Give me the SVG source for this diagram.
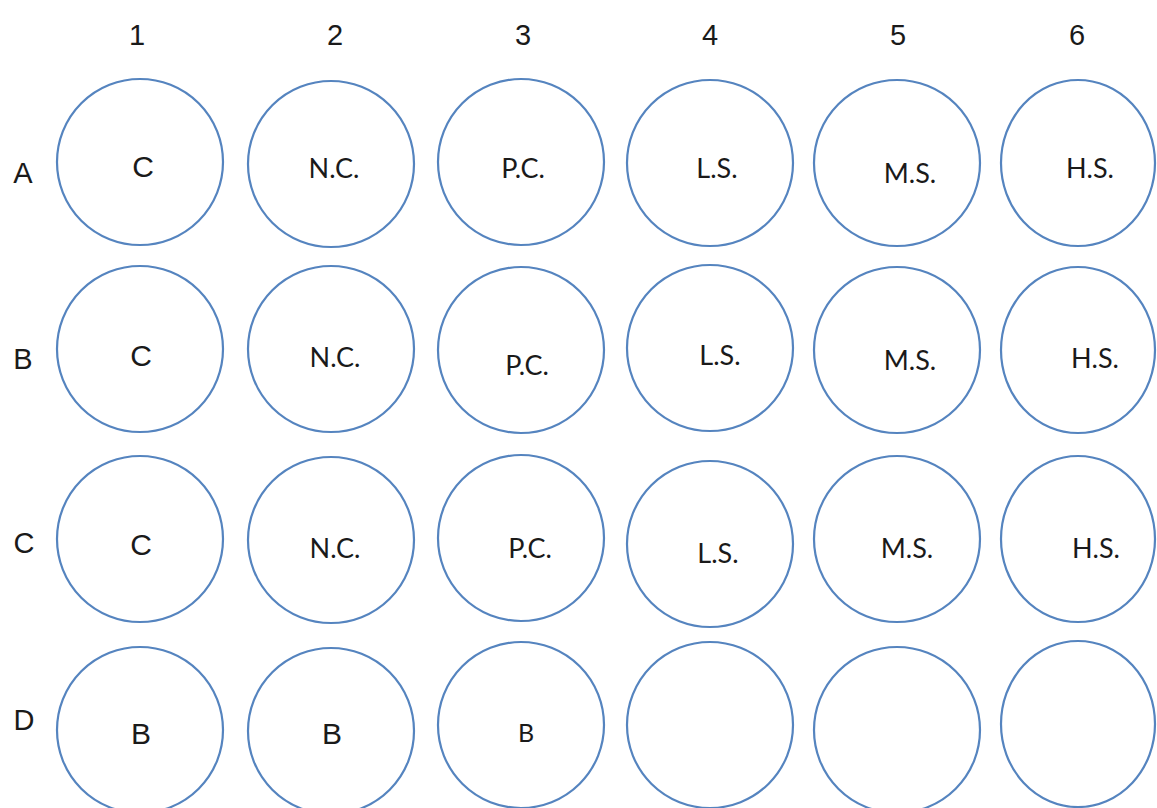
<svg xmlns="http://www.w3.org/2000/svg" width="1157" height="808" viewBox="0 0 1157 808">
<style>
.well{fill:none;stroke:#5584BF;stroke-width:2.2}
.hdr{font-family:"Liberation Sans",Arial,sans-serif;font-size:29px;fill:#1a1a1a;text-anchor:middle}
.sans{font-family:"Liberation Sans",Arial,sans-serif;font-size:30px;fill:#1a1a1a;text-anchor:middle}
.cal{font-family:Lato,"Open Sans",sans-serif;font-size:27px;fill:#1a1a1a;text-anchor:middle}
</style>
<rect width="1157" height="808" fill="#fff"/>
<g id="headers">
<text class="hdr" x="137" y="45">1</text>
<text class="hdr" x="335" y="45">2</text>
<text class="hdr" x="523" y="45">3</text>
<text class="hdr" x="710" y="45">4</text>
<text class="hdr" x="898" y="45">5</text>
<text class="hdr" x="1077" y="45">6</text>
<text class="hdr" x="23" y="183">A</text>
<text class="hdr" x="23" y="369">B</text>
<text class="hdr" x="24" y="553">C</text>
<text class="hdr" x="24" y="730">D</text>
</g>
<g id="rowA">
<g id="A1"><circle class="well" cx="140" cy="162" r="83"/><text class="sans" x="143" y="177">C</text></g>
<g id="A2"><circle class="well" cx="331" cy="164" r="83"/><text class="cal" x="334" y="178">N.C.</text></g>
<g id="A3"><circle class="well" cx="521" cy="162" r="83"/><text class="cal" x="523" y="178">P.C.</text></g>
<g id="A4"><circle class="well" cx="710" cy="163" r="83"/><text class="cal" x="717" y="178">L.S.</text></g>
<g id="A5"><circle class="well" cx="897" cy="163" r="83"/><text class="cal" x="910" y="183">M.S.</text></g>
<g id="A6"><ellipse class="well" cx="1078" cy="163" rx="77" ry="83"/><text class="cal" x="1090" y="178">H.S.</text></g>
</g>
<g id="rowB">
<g id="B1"><circle class="well" cx="140" cy="349" r="83"/><text class="sans" x="141" y="366">C</text></g>
<g id="B2"><circle class="well" cx="331" cy="349" r="83"/><text class="cal" x="335" y="367">N.C.</text></g>
<g id="B3"><circle class="well" cx="521" cy="350" r="83"/><text class="cal" x="527" y="375">P.C.</text></g>
<g id="B4"><circle class="well" cx="710" cy="348" r="83"/><text class="cal" x="720" y="365">L.S.</text></g>
<g id="B5"><circle class="well" cx="897" cy="350" r="83"/><text class="cal" x="910" y="370">M.S.</text></g>
<g id="B6"><ellipse class="well" cx="1078" cy="350" rx="77" ry="83"/><text class="cal" x="1095" y="368">H.S.</text></g>
</g>
<g id="rowC">
<g id="C1"><circle class="well" cx="140" cy="539" r="83"/><text class="sans" x="141" y="555">C</text></g>
<g id="C2"><circle class="well" cx="331" cy="540" r="83"/><text class="cal" x="335" y="558">N.C.</text></g>
<g id="C3"><circle class="well" cx="521" cy="538" r="83"/><text class="cal" x="530" y="558">P.C.</text></g>
<g id="C4"><circle class="well" cx="710" cy="544" r="83"/><text class="cal" x="718" y="563">L.S.</text></g>
<g id="C5"><circle class="well" cx="897" cy="539" r="83"/><text class="cal" x="907" y="558">M.S.</text></g>
<g id="C6"><ellipse class="well" cx="1078" cy="539" rx="77" ry="83"/><text class="cal" x="1096" y="558">H.S.</text></g>
</g>
<g id="rowD">
<g id="D1"><circle class="well" cx="140" cy="730" r="83"/><text class="sans" x="141" y="744">B</text></g>
<g id="D2"><circle class="well" cx="331" cy="731" r="83"/><text class="sans" x="332" y="744">B</text></g>
<g id="D3"><circle class="well" cx="521" cy="725" r="83"/><text class="cal" x="526" y="742" style="font-size:25px">B</text></g>
<g id="D4"><circle class="well" cx="710" cy="725" r="83"/></g>
<g id="D5"><circle class="well" cx="897" cy="730" r="83"/></g>
<g id="D6"><ellipse class="well" cx="1078" cy="724" rx="77" ry="83"/></g>
</g>
<g id="connectors"/>
</svg>
